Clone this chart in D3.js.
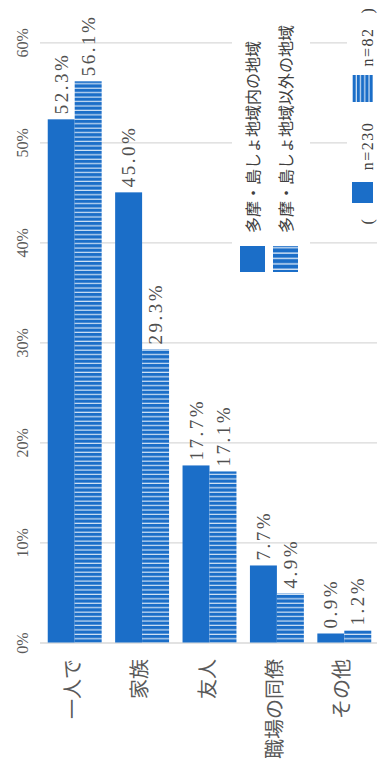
<!DOCTYPE html>
<html>
<head>
<meta charset="utf-8">
<script src="https://cdn.jsdelivr.net/npm/d3@7"></script>
<style>
  html, body { margin: 0; padding: 0; background: #fff; }
  svg { display: block; }
</style>
</head>
<body>
<svg id="chart" width="377" height="773"></svg>
<script>
// 一緒に過ごす相手（地域別）
const categories = ["一人で", "家族", "友人", "職場の同僚", "その他"];
const seriesNames = ["多摩・島しょ地域内の地域", "多摩・島しょ地域以外の地域"];
const seriesN = ["n=230", "n=82"];
const inside  = [52.3, 45.0, 17.7, 7.7, 0.9];
const outside = [56.1, 29.3, 17.1, 4.9, 1.2];
const tickValues = [0, 10, 20, 30, 40, 50, 60];

const BLUE = "#1b6ec8";
const NUM_FONT = "Liberation Serif, DejaVu Serif, serif";
const JP_FONT = "Noto Sans CJK JP, sans-serif";

const svg = d3.select("#chart");
const defs = svg.append("defs");

// line fills for the second series
function stripePattern(id, period, line, vertical) {
  const p = defs.append("pattern")
    .attr("id", id)
    .attr("patternUnits", "userSpaceOnUse")
    .attr("width", vertical ? period : 10)
    .attr("height", vertical ? 10 : period);
  p.append("rect").attr("width", vertical ? period : 10).attr("height", vertical ? 10 : period).attr("fill", BLUE);
  if (vertical) {
    p.append("rect").attr("x", period - line).attr("width", line).attr("height", 10)
      .attr("fill", "#fff").attr("opacity", 0.8);
  } else {
    p.append("rect").attr("y", period - line).attr("width", 10).attr("height", line)
      .attr("fill", "#fff").attr("opacity", 0.8);
  }
}
stripePattern("stripeBar", 4.44, 1.2, false);
stripePattern("stripeKey", 5.4, 1.4, false);
stripePattern("stripeKeyV", 4.2, 1.2, true);

const fills = [BLUE, "url(#stripeBar)"];

const y = d3.scaleLinear().domain([0, 60]).range([642.5, 42.3]);
const x0 = d3.scaleBand().domain(categories).range([41, 378])
  .paddingInner(0.2).paddingOuter(0.1);
const x1 = d3.scaleBand().domain([0, 1]).range([0, x0.bandwidth()]);

// value axis with gridlines
const axis = svg.append("g")
  .attr("transform", "translate(40,0)")
  .call(d3.axisLeft(y).tickValues(tickValues).tickSize(-337).tickFormat(d => d + "%"));
axis.attr("font-family", NUM_FONT).attr("font-size", 16);
axis.select(".domain").remove();
axis.selectAll(".tick line").attr("stroke", "#d9d9d9").attr("stroke-width", 1.3);
axis.selectAll(".tick text")
  .attr("x", null).attr("dy", null)
  .attr("transform", "translate(-12,0) rotate(-90)")
  .attr("text-anchor", "middle")
  .attr("fill", "#595959");

// bars
const rows = categories.map((c, i) => ({ cat: c, vals: [inside[i], outside[i]] }));
const groups = svg.append("g").selectAll("g").data(rows).join("g")
  .attr("transform", d => `translate(${x0(d.cat)},0)`);

groups.selectAll("rect")
  .data(d => d.vals.map((v, k) => ({ v, k })))
  .join("rect")
  .attr("x", d => x1(d.k))
  .attr("y", d => y(d.v))
  .attr("width", x1.bandwidth())
  .attr("height", d => y(0) - y(d.v))
  .attr("fill", d => fills[d.k]);

// value labels
groups.selectAll("text.val")
  .data(d => d.vals.map((v, k) => ({ v, k })))
  .join("text")
  .attr("class", "val")
  .attr("transform", d => `translate(${x1(d.k) + x1.bandwidth() / 2},${y(d.v) - 5}) rotate(-90)`)
  .attr("dy", "0.35em")
  .attr("text-anchor", "start")
  .attr("fill", "#505050")
  .attr("font-family", NUM_FONT)
  .attr("font-size", 19)
  .attr("letter-spacing", 2.5)
  .text(d => d.v.toFixed(1) + "%");

// category labels
svg.append("g").selectAll("text").data(categories).join("text")
  .attr("transform", d => `translate(${x0(d) + x0.bandwidth() / 2 - 2},659) rotate(-90)`)
  .attr("dy", "0.35em")
  .attr("text-anchor", "end")
  .attr("fill", "#595959")
  .attr("font-family", JP_FONT)
  .attr("font-size", 20)
  .text(d => d);

// series legend
const legend = svg.append("g");
legend.append("rect").attr("x", 232).attr("y", 0).attr("width", 78).attr("height", 282).attr("fill", "#fff");
const keyX = [240, 273];
const keyFill = [BLUE, "url(#stripeKey)"];
seriesNames.forEach((name, k) => {
  legend.append("rect")
    .attr("x", keyX[k]).attr("y", 246).attr("width", 25).attr("height", 26)
    .attr("fill", keyFill[k]);
  legend.append("text")
    .attr("transform", `translate(${keyX[k] + 13},233) rotate(-90)`)
    .attr("dy", "0.35em")
    .attr("text-anchor", "start")
    .attr("fill", "#404040")
    .attr("font-family", JP_FONT)
    .attr("font-size", 16)
    .text(name);
});

// sample sizes
const nBox = svg.append("g");
nBox.append("rect").attr("x", 347).attr("y", 0).attr("width", 30).attr("height", 232).attr("fill", "#fff");
nBox.append("rect").attr("x", 352).attr("y", 182).attr("width", 21).attr("height", 21).attr("fill", BLUE);
nBox.append("rect").attr("x", 352).attr("y", 75).attr("width", 21).attr("height", 27).attr("fill", "url(#stripeKeyV)");
const nText = [
  { t: "(", cy: 221 },
  { t: seriesN[0], cy: 146 },
  { t: seriesN[1], cy: 47 },
  { t: ")", cy: 10 }
];
nBox.selectAll("text").data(nText).join("text")
  .attr("transform", d => `translate(373,${d.cy}) rotate(-90)`)
  .attr("text-anchor", "middle")
  .attr("fill", "#404040")
  .attr("font-family", NUM_FONT)
  .attr("font-size", 16)
  .attr("letter-spacing", 1.5)
  .text(d => d.t);
</script>
</body>
</html>
